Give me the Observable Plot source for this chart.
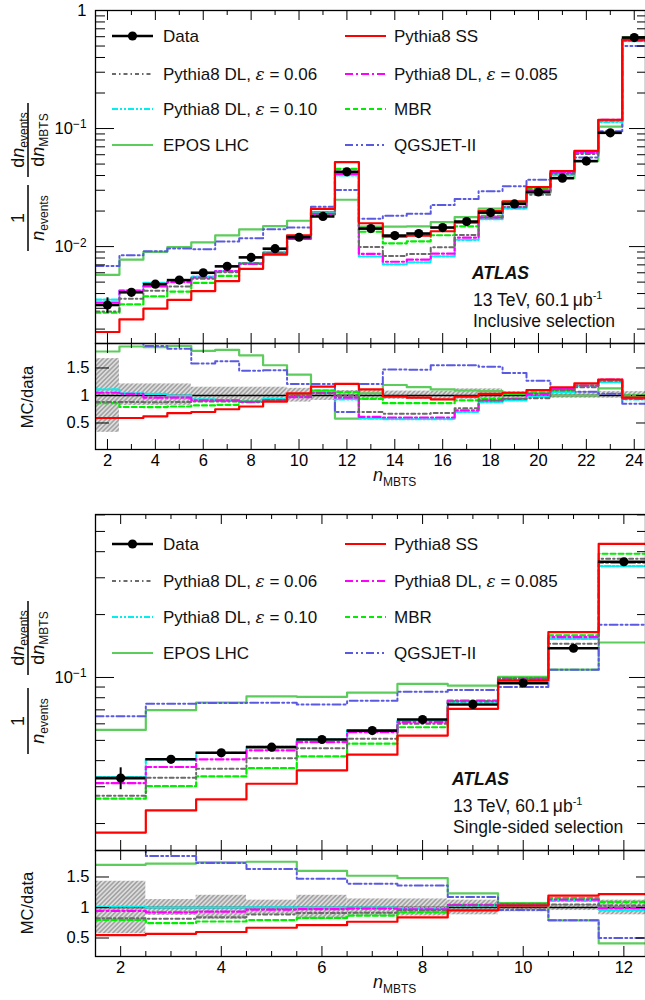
<!DOCTYPE html>
<html><head><meta charset="utf-8">
<script src="https://cdn.jsdelivr.net/npm/d3@7"></script>
<script src="https://cdn.jsdelivr.net/npm/@observablehq/plot@0.6"></script>
<style>
body{margin:0;background:#fff;}
#root{position:relative;width:645px;height:1000px;overflow:hidden;background:#fff;}
</style></head><body><div id="root"></div>
<script>
// ---------------- DATA ----------------
// Inclusive selection, n_MBTS = 2..24
const nIncl = [2,3,4,5,6,7,8,9,10,11,12,13,14,15,16,17,18,19,20,21,22,23,24];
const dataIncl = [0.0032,0.0041,0.0048,0.0052,0.0060,0.0068,0.0081,0.0096,0.0120,0.0180,0.0430,0.0142,0.0124,0.0129,0.0145,0.0163,0.0194,0.0230,0.0290,0.0380,0.0530,0.0920,0.590];
const errIncl = [0.15,0.04,0.03,0.03,0.02,0.02,0.02,0.02,0.02,0.02,0.02,0.02,0.02,0.02,0.02,0.02,0.02,0.02,0.02,0.02,0.02,0.02,0.02];
const ssIncl = [0.00189,0.00242,0.00298,0.00354,0.0042,0.0051,0.00648,0.00854,0.01248,0.0209,0.0520,0.01576,0.01215,0.01238,0.01349,0.01597,0.01998,0.02415,0.0319,0.0437,0.0647,0.1187,0.566];
const dl06Incl = [0.00282,0.00361,0.00422,0.00458,0.00534,0.00605,0.00721,0.00883,0.0120,0.0187,0.0430,0.00994,0.00831,0.00864,0.00986,0.01255,0.01765,0.02162,0.02755,0.0414,0.0610,0.1168,0.566];
const dl085Incl = [0.00336,0.00422,0.00461,0.00499,0.00546,0.00619,0.00713,0.00874,0.01164,0.0189,0.0413,0.00866,0.00744,0.00774,0.0087,0.0119,0.01765,0.02162,0.02987,0.04256,0.06254,0.1187,0.5546];
const dl10Incl = [0.00355,0.00426,0.00494,0.0052,0.00558,0.00619,0.00721,0.00902,0.01176,0.01908,0.0400,0.00824,0.00707,0.00735,0.00827,0.01141,0.01707,0.02093,0.02842,0.04028,0.06254,0.1141,0.5487];
const mbrIncl = [0.00275,0.00324,0.00379,0.00416,0.00492,0.00564,0.00721,0.00883,0.0120,0.01962,0.04558,0.01335,0.01066,0.01109,0.01247,0.01483,0.01824,0.02369,0.03074,0.04142,0.06254,0.1168,0.590];
const eposIncl = [0.00576,0.00775,0.00902,0.00988,0.01086,0.01244,0.01401,0.01488,0.01656,0.01962,0.02494,0.01477,0.01476,0.01484,0.0161,0.01777,0.02095,0.02392,0.02958,0.0380,0.0530,0.104,0.566];
const qgsIncl = [0.00685,0.00845,0.00912,0.00962,0.00948,0.01102,0.01175,0.01402,0.01452,0.02178,0.0301,0.01718,0.01823,0.01896,0.02248,0.02527,0.02949,0.03243,0.03683,0.04256,0.05671,0.0948,0.5015];
const bandLoIncl = [0.33,0.82,0.82,0.82,0.88,0.88,0.88,0.88,0.88,0.91,0.91,0.91,0.93,0.93,0.93,0.93,0.93,0.95,0.95,0.95,0.95,0.95,0.95];
const bandHiIncl = [1.67,1.21,1.21,1.21,1.15,1.15,1.15,1.15,1.13,1.09,1.09,1.09,1.08,1.08,1.08,1.12,1.12,1.07,1.07,1.07,1.07,1.07,1.07];

// Single-sided selection, n_MBTS = 2..12
const nSS = [2,3,4,5,6,7,8,9,10,11,12];
const dataSS = [0.0330,0.0406,0.0436,0.0464,0.0505,0.0557,0.0629,0.0743,0.0940,0.138,0.358];
const errSS = [0.12,0.03,0.02,0.02,0.02,0.02,0.02,0.02,0.02,0.02,0.02];
const ssSS = [0.0181,0.0231,0.0261,0.0310,0.0359,0.0427,0.0527,0.0708,0.097,0.165,0.436];
const dl06SS = [0.0272,0.0331,0.0366,0.0411,0.0459,0.0509,0.060,0.0767,0.0987,0.145,0.370];
const dl085SS = [0.0312,0.0373,0.0406,0.0448,0.0491,0.0547,0.0611,0.0776,0.0987,0.156,0.354];
const dl10SS = [0.0334,0.0406,0.0436,0.0466,0.0505,0.0557,0.0623,0.0765,0.096,0.153,0.341];
const mbrSS = [0.0263,0.0302,0.0336,0.0368,0.0419,0.0482,0.0578,0.0771,0.0996,0.159,0.391];
const eposSS = [0.0561,0.0698,0.0759,0.0812,0.0808,0.0847,0.0931,0.0914,0.1006,0.109,0.147];
const qgsSS = [0.0653,0.0748,0.0754,0.0756,0.0742,0.0774,0.0855,0.087,0.090,0.109,0.179];
const bandLoSS = [0.57,0.87,0.80,0.88,0.80,0.86,0.86,0.88,0.93,0.95,0.88];
const bandHiSS = [1.43,1.13,1.20,1.12,1.20,1.14,1.14,1.12,1.07,1.05,1.12];

// Tick values / labels
const xLabelsIncl = [2,4,6,8,10,12,14,16,18,20,22,24];
const xMinorIncl = [3,5,7,9,11,13,15,17,19,21,23];
const xLabelsSS = [2,4,6,8,10,12];
const xMinorSS = [2.5,3,3.5,4.5,5,5.5,6.5,7,7.5,8.5,9,9.5,10.5,11,11.5];
const yLabelsIncl = [0.01,0.1,1];
const yLabelsSS = [0.1];
const ratioTicks = [0.5,1,1.5];

const labels = {
  data: ["Data"],
  ss: ["Pythia8 SS"],
  dl06: ["Pythia8 DL, ", "ε", " = 0.06"],
  dl085: ["Pythia8 DL, ", "ε", " = 0.085"],
  dl10: ["Pythia8 DL, ", "ε", " = 0.10"],
  mbr: ["MBR"],
  epos: ["EPOS LHC"],
  qgs: ["QGSJET-II"]
};

// ---------------- STYLE ----------------
const FONT = '"Liberation Sans", Arial, Helvetica, sans-serif';
const W = 645, ML = 95;
const styles = {
  epos: {stroke:"#5ccc5c", dash:null, w:2.2},
  qgs: {stroke:"#5a5ae0", dash:"8,3,2,3,2,3", w:2},
  mbr: {stroke:"#00ee00", dash:"5,3", w:2.2},
  dl10: {stroke:"#00f0f0", dash:"6,2,2,2,2,2", w:2.2},
  dl085: {stroke:"#ff00ff", dash:"8,3,2,3", w:2.2},
  dl06: {stroke:"#6a6a6a", dash:"4,3,1.5,3", w:2},
  ss: {stroke:"#ff0000", dash:null, w:2.2}
};
const drawOrder = ["epos","qgs","mbr","dl10","dl085","dl06","ss"];

const root = document.getElementById("root");

function steps(ns, vals){
  const pts = ns.map((n,i)=>({x:n-0.5, y:vals[i]}));
  pts.push({x:ns[ns.length-1]+0.5, y:vals[vals.length-1]});
  return pts;
}
function logMinor(lo, hi){
  const out=[];
  for (let e=-4;e<=1;e++) for (let m=2;m<=9;m++){ const v=m*Math.pow(10,e); if(v>lo&&v<hi) out.push(v); }
  return out;
}
function logMajor(lo, hi){
  const out=[];
  for (let e=-4;e<=1;e++){ const v=Math.pow(10,e); if(v>=lo*0.999&&v<=hi*1.001) out.push(v); }
  return out;
}
function fmtPow(v){ const e=Math.round(Math.log10(v)); return e===0 ? "1" : "10^"+e; }
function supify(svg){
  d3.select(svg).selectAll("text").each(function(){
    const t=this.textContent;
    if (t.startsWith("10^")){
      const e=t.slice(3).replace("-","\u2212");
      const s=d3.select(this); s.text("");
      s.append("tspan").text("10");
      s.append("tspan").attr("dy","-0.45em").attr("font-size","0.72em").text(e);
    }
  });
}
function xTickMarks(major, minor, plotH, lenMaj, lenMin){
  return [
    Plot.tickX(major, {x:d=>d, insetBottom:plotH-lenMaj, stroke:"black"}),
    Plot.tickX(minor, {x:d=>d, insetBottom:plotH-lenMin, stroke:"black"}),
    Plot.tickX(major, {x:d=>d, insetTop:plotH-lenMaj, stroke:"black"}),
    Plot.tickX(minor, {x:d=>d, insetTop:plotH-lenMin, stroke:"black"})
  ];
}

function mainPanel(o){
  const plotW = W-ML, plotH = o.height-o.mt-o.mb;
  const marks = [];
  for (const k of drawOrder){
    const s = styles[k];
    marks.push(Plot.line(steps(o.ns, o.series[k]), {x:"x", y:"y", curve:"step-after", stroke:s.stroke, strokeWidth:s.w, strokeDasharray:s.dash, clip:true}));
  }
  const rows = o.ns.map((n,i)=>({n, v:o.data[i], e:o.err[i]}));
  marks.push(Plot.ruleY(rows, {y:"v", x1:d=>d.n-0.5, x2:d=>d.n+0.5, stroke:"black", strokeWidth:2.6, clip:true}));
  marks.push(Plot.ruleX(rows, {x:"n", y1:d=>d.v*(1-d.e), y2:d=>d.v*(1+d.e), stroke:"black", strokeWidth:2, clip:true}));
  marks.push(Plot.dot(rows, {x:"n", y:"v", r:4.6, fill:"black", stroke:"none", clip:true}));
  const yMaj = logMajor(o.yDomain[0], o.yDomain[1]);
  const yMin = logMinor(o.yDomain[0], o.yDomain[1]);
  marks.push(Plot.tickY(yMaj, {y:d=>d, insetRight:plotW-19, stroke:"black"}));
  marks.push(Plot.tickY(yMin, {y:d=>d, insetRight:plotW-10, stroke:"black"}));
  marks.push(Plot.tickY(yMaj, {y:d=>d, insetLeft:plotW-16, stroke:"black"}));
  marks.push(Plot.tickY(yMin, {y:d=>d, insetLeft:plotW-8, stroke:"black"}));
  marks.push(...xTickMarks(o.xMajor, o.xMinor, plotH, 10, 5));
  marks.push(Plot.frame({stroke:"black", strokeWidth:1.3}));
  marks.push(Plot.axisY(o.yLabels, {tickSize:0, tickPadding:9, tickFormat:fmtPow, fontSize:16.5, label:null}));
  const svg = Plot.plot({
    width:W, height:o.height, marginLeft:ML, marginRight:0, marginTop:o.mt, marginBottom:o.mb,
    x:{domain:o.xDomain, axis:null, label:null}, y:{type:"log", domain:o.yDomain, axis:null, label:null},
    style:{position:"absolute", left:"0px", top:o.top+"px", fontFamily:FONT, background:"transparent", overflow:"visible", color:"black"},
    marks
  });
  supify(svg);
  root.appendChild(svg);
}

function ratioPanel(o){
  const plotW = W-ML, plotH = o.height-o.mt-o.mb;
  const marks = [];
  const rows = o.ns.map((n,i)=>({n, lo:o.lo[i], hi:o.hi[i]}));
  marks.push(Plot.rect(rows, {x1:d=>d.n-0.5, x2:d=>d.n+0.5, y1:"lo", y2:"hi", fill:`url(#${o.hatch})`, clip:true}));
  marks.push(Plot.ruleY([1], {stroke:"black", strokeWidth:1.6}));
  for (const k of drawOrder){
    const s = styles[k];
    const r = o.series[k].map((v,i)=>v/o.data[i]);
    marks.push(Plot.line(steps(o.ns, r), {x:"x", y:"y", curve:"step-after", stroke:s.stroke, strokeWidth:s.w, strokeDasharray:s.dash, clip:true}));
  }
  marks.push(Plot.tickY(ratioTicks, {y:d=>d, insetRight:plotW-14, stroke:"black"}));
  marks.push(Plot.tickY(ratioTicks, {y:d=>d, insetLeft:plotW-9, stroke:"black"}));
  marks.push(...xTickMarks(o.xMajor, o.xMinor, plotH, 10, 5));
  marks.push(Plot.frame({stroke:"black", strokeWidth:1.3}));
  marks.push(Plot.axisY(ratioTicks, {tickSize:0, tickPadding:6, tickFormat:d=>String(d), fontSize:16.5, label:null}));
  marks.push(Plot.axisX(o.xMajor, {tickSize:0, tickPadding:5, tickFormat:d=>String(d), fontSize:16.5, label:null}));
  const svg = Plot.plot({
    width:W, height:o.height, marginLeft:ML, marginRight:0, marginTop:o.mt, marginBottom:o.mb,
    x:{domain:o.xDomain, axis:null, label:null}, y:{domain:o.yDomain, axis:null, label:null},
    style:{position:"absolute", left:"0px", top:o.top+"px", fontFamily:FONT, background:"transparent", overflow:"visible", color:"black"},
    marks
  });
  const defs = d3.select(svg).insert("defs", ":first-child");
  const p = defs.append("pattern").attr("id", o.hatch).attr("patternUnits","userSpaceOnUse")
    .attr("width",3.2).attr("height",3.2).attr("patternTransform","rotate(45)");
  p.append("rect").attr("width",3.2).attr("height",3.2).attr("fill","#dcdcdc");
  p.append("line").attr("x1",0.8).attr("y1",0).attr("x2",0.8).attr("y2",3.2).attr("stroke","#8a8a8a").attr("stroke-width",1.1);
  root.appendChild(svg);
}

const seriesIncl = {ss:ssIncl, dl06:dl06Incl, dl085:dl085Incl, dl10:dl10Incl, mbr:mbrIncl, epos:eposIncl, qgs:qgsIncl};
const seriesSS = {ss:ssSS, dl06:dl06SS, dl085:dl085SS, dl10:dl10SS, mbr:mbrSS, epos:eposSS, qgs:qgsSS};

mainPanel({top:0, height:343, mt:10, mb:0, ns:nIncl, data:dataIncl, err:errIncl, series:seriesIncl,
  xDomain:[1.5,24.47], yDomain:[0.00151,1], xMajor:xLabelsIncl, xMinor:xMinorIncl, yLabels:yLabelsIncl});
ratioPanel({top:343, height:150, mt:0, mb:44, ns:nIncl, data:dataIncl, series:seriesIncl, lo:bandLoIncl, hi:bandHiIncl,
  hatch:"hatchIncl", xDomain:[1.5,24.47], yDomain:[0.018,1.945], xMajor:xLabelsIncl, xMinor:xMinorIncl});
mainPanel({top:504, height:346, mt:10, mb:0, ns:nSS, data:dataSS, err:errSS, series:seriesSS,
  xDomain:[1.5,12.43], yDomain:[0.01486,0.6025], xMajor:xLabelsSS, xMinor:xMinorSS, yLabels:yLabelsSS});
ratioPanel({top:850, height:150, mt:0, mb:44, ns:nSS, data:dataSS, series:seriesSS, lo:bandLoSS, hi:bandHiSS,
  hatch:"hatchSS", xDomain:[1.5,12.43], yDomain:[0.197,1.934], xMajor:xLabelsSS, xMinor:xMinorSS});

// ---------------- OVERLAY TEXT (legend, labels) ----------------
const ov = d3.select(root).append("svg").attr("width",W).attr("height",1000)
  .style("position","absolute").style("left","0px").style("top","0px")
  .style("font-family",FONT).style("pointer-events","none");

function legend(ys){
  const cols = [{a:112,b:153,t:163},{a:345,b:386,t:394}];
  const layout = [["data","ss"],["dl06","dl085"],["dl10","mbr"],["epos","qgs"]];
  layout.forEach((row,r)=>row.forEach((k,c)=>{
    const y = ys[r], col = cols[c];
    if (k==="data"){
      ov.append("line").attr("x1",col.a).attr("x2",col.b).attr("y1",y).attr("y2",y).attr("stroke","black").attr("stroke-width",2.6);
      ov.append("circle").attr("cx",(col.a+col.b)/2).attr("cy",y).attr("r",4.6).attr("fill","black");
    } else {
      const s = styles[k];
      ov.append("line").attr("x1",col.a).attr("x2",col.b).attr("y1",y).attr("y2",y)
        .attr("stroke",s.stroke).attr("stroke-width",s.w).attr("stroke-dasharray",s.dash);
    }
    const t = ov.append("text").attr("x",col.t).attr("y",y+6).attr("font-size",17).attr("fill","#111");
    labels[k].forEach((part,i)=>{
      const ts = t.append("tspan").text(part);
      if (part==="ε") ts.attr("font-style","italic").attr("font-family","'DejaVu Serif', serif");
    });
  }));
}
legend([36,74,109,145]);
legend([544,581,617,653]);

function atlas(x, y0, sel){
  ov.append("text").attr("x",x).attr("y",y0).attr("font-size",17.5).attr("font-weight","bold").attr("font-style","italic").attr("fill","#111").text("ATLAS");
  const t = ov.append("text").attr("x",x+1).attr("y",y0+27).attr("font-size",17.5).attr("fill","#111");
  t.append("tspan").text("13 TeV, 60.1\u2009\u03bcb");
  t.append("tspan").attr("dy",-7).attr("font-size",11).text("-1");
  ov.append("text").attr("x",x+1).attr("y",y0+48).attr("font-size",17.5).attr("fill","#111").text(sel);
}
atlas(472, 279, "Inclusive selection");
atlas(452, 785, "Single-sided selection");

function xTitle(y){
  const t = ov.append("text").attr("x",373).attr("y",y).attr("font-size",18).attr("fill","#111");
  t.append("tspan").attr("font-style","italic").text("n");
  t.append("tspan").attr("dy",5).attr("font-size",12).text("MBTS");
}
xTitle(481);
xTitle(988);

function mcData(cy){
  ov.append("text").attr("transform",`translate(33,${cy}) rotate(-90)`).attr("text-anchor","middle")
    .attr("font-size",16.5).attr("fill","#111").text("MC/data");
}
mcData(397);
mcData(903);

function yTitle(xBar, cyA, cyB){
  // 1 / n_events
  const gA = ov.append("g").attr("transform",`translate(${xBar},${cyA}) rotate(-90)`).attr("fill","#111");
  gA.append("text").attr("text-anchor","middle").attr("y",-4).attr("font-size",18).text("1");
  const dA = gA.append("text").attr("text-anchor","middle").attr("y",16).attr("font-size",18);
  dA.append("tspan").attr("font-style","italic").text("n");
  dA.append("tspan").attr("dy",4).attr("font-size",12).text("events");
  gA.append("line").attr("x1",-33).attr("x2",33).attr("stroke","#111").attr("stroke-width",1.6);
  // dn_events / dn_MBTS
  const gB = ov.append("g").attr("transform",`translate(${xBar},${cyB}) rotate(-90)`).attr("fill","#111");
  const nB = gB.append("text").attr("text-anchor","middle").attr("y",-4).attr("font-size",18);
  nB.append("tspan").text("d");
  nB.append("tspan").attr("font-style","italic").text("n");
  nB.append("tspan").attr("dy",4).attr("font-size",12).text("events");
  const dB = gB.append("text").attr("text-anchor","middle").attr("y",16).attr("font-size",18);
  dB.append("tspan").text("d");
  dB.append("tspan").attr("font-style","italic").text("n");
  dB.append("tspan").attr("dy",4).attr("font-size",12).text("MBTS");
  gB.append("line").attr("x1",-37).attr("x2",37).attr("stroke","#111").attr("stroke-width",1.6);
}
yTitle(28, 218, 140);
yTitle(28, 721, 638);
</script>
</body></html>
